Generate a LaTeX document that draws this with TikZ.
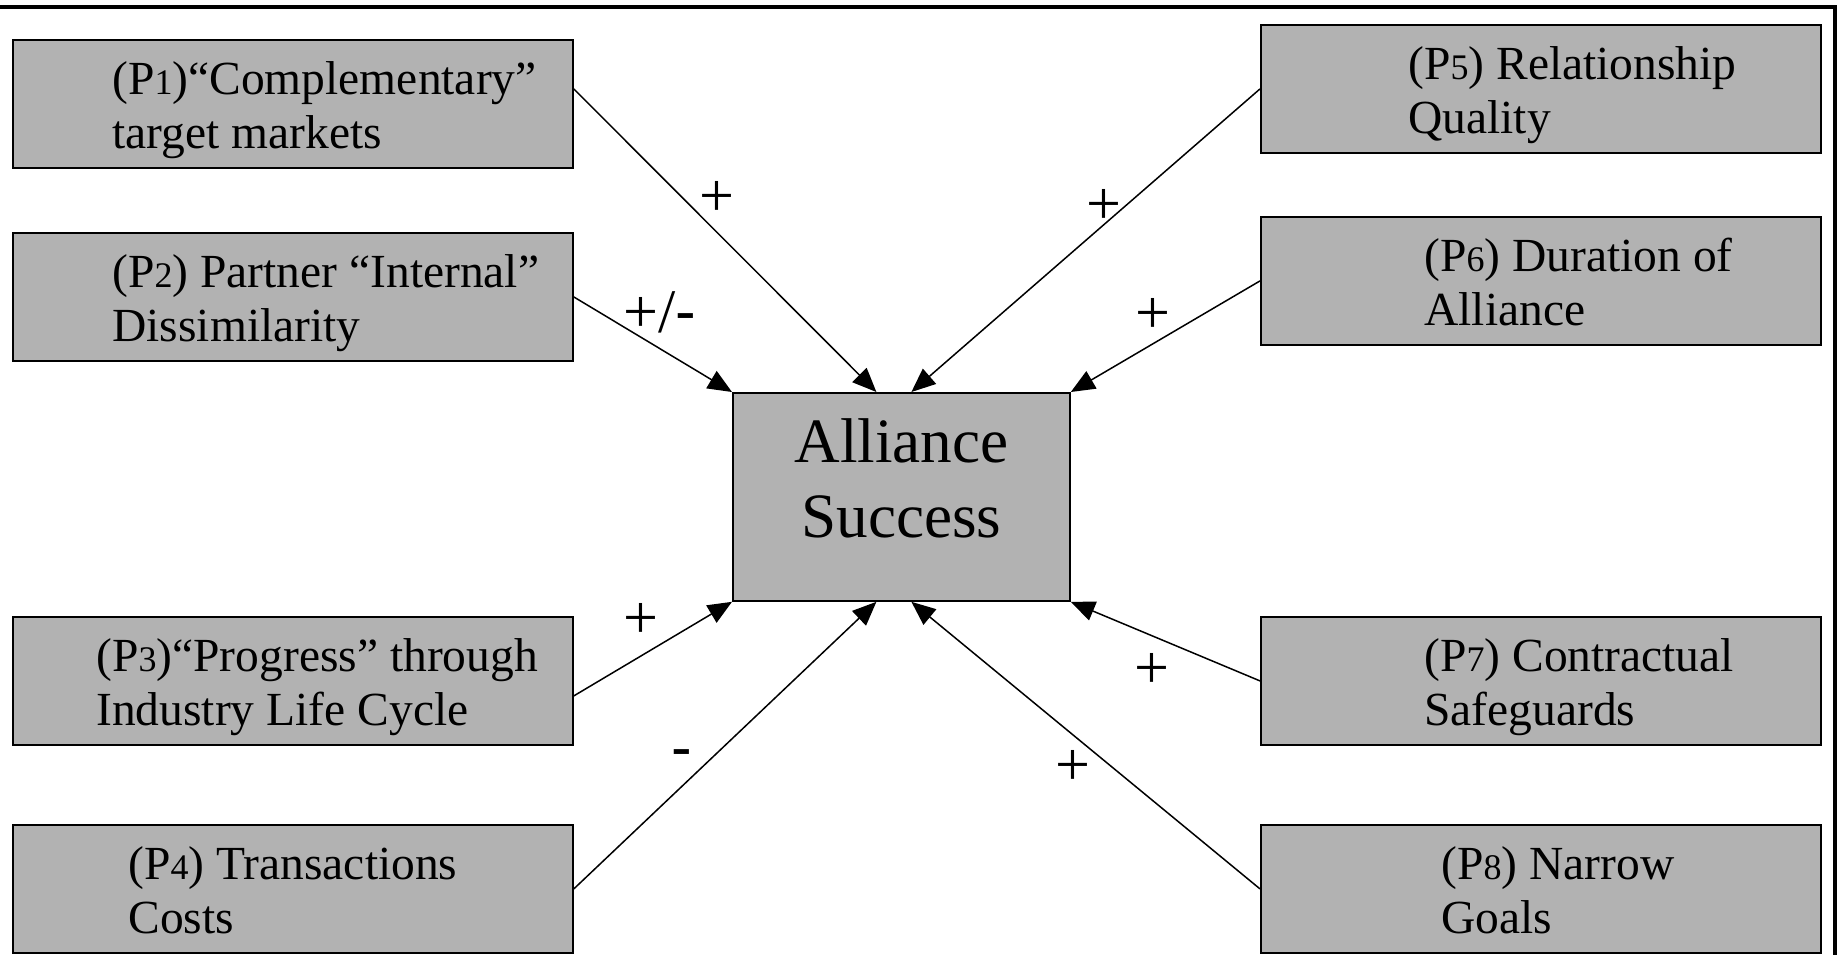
\documentclass[tikz,border=0pt]{standalone}
\usepackage{fontspec}
\setmainfont{Liberation Serif}
\newfontfamily\sansf{Liberation Sans}
\usetikzlibrary{arrows.meta,calc}
\definecolor{boxgray}{RGB}{178,178,178}
\newcommand\dg[1]{{\fontsize{18}{18}\selectfont #1}}
\begin{document}
\begin{tikzpicture}[x=0.5pt,y=-0.5pt,
  pbox/.style={draw=black, line width=0.9pt, fill=boxgray, minimum width=280pt,
    minimum height=64pt, inner sep=0pt, anchor=north west},
  cbox/.style={draw=black, line width=0.9pt, fill=boxgray, minimum width=168.5pt,
    minimum height=104pt, inner sep=0pt, anchor=north west},
  ptext/.style={anchor=north west, inner sep=0pt, align=left,
    font=\fontsize{23.75}{27}\selectfont},
  ctext/.style={anchor=north, inner sep=0pt, align=center,
    font=\fontsize{31.6}{37.5}\selectfont},
  conn/.style={line width=0.75pt, -{Triangle[length=12pt,width=10pt]}},
  sign/.style={inner sep=0pt, font=\fontsize{31}{33}\selectfont},
  frame/.style={line width=2pt}]
\useasboundingbox (0,0) rectangle (1838,955);
% frame (top and right only)
\draw[frame] (0,7) -- (1835,7) -- (1835,955);
% boxes
\node[pbox] (p1) at (12,39) {};
\node[pbox] (p2) at (12,232) {};
\node[pbox] (p3) at (12,616) {};
\node[pbox] (p4) at (12,824) {};
\node[pbox] (p5) at (1260,24) {};
\node[pbox] (p6) at (1260,216) {};
\node[pbox] (p7) at (1260,616) {};
\node[pbox] (p8) at (1260,824) {};
\node[cbox] (as) at (732,392) {};
% texts
\node[ptext] (t1) at ($(p1.north west)+(100,22)$) {(P\dg{1})“Complementary”\\target markets};
\node[ptext] (t2) at ($(p2.north west)+(100,22)$) {(P\dg{2}) Partner “Internal”\\Dissimilarity};
\node[ptext] (t3) at ($(p3.north west)+(84,22)$) {(P\dg{3})“Progress” through\\Industry Life Cycle};
\node[ptext] (t4) at ($(p4.north west)+(116,22)$) {(P\dg{4}) Transactions\\Costs};
\node[ptext] (t5) at ($(p5.north west)+(148,22)$) {(P\dg{5}) Relationship\\Quality};
\node[ptext] (t6) at ($(p6.north west)+(164,22)$) {(P\dg{6}) Duration of\\Alliance};
\node[ptext] (t7) at ($(p7.north west)+(164,22)$) {(P\dg{7}) Contractual\\Safeguards};
\node[ptext] (t8) at ($(p8.north west)+(181,22)$) {(P\dg{8}) Narrow\\Goals};
\node[ctext] (tc) at ($(as.north)+(0,26)$) {Alliance\\Success};
% connectors
\draw[conn] ($(p1.east)+(0,-15)$) -- ($(as.north)+(-25,0)$);
\draw[conn] (p2.east) -- (as.north west);
\draw[conn] ($(p3.east)+(0,15)$) -- (as.south west);
\draw[conn] (p4.east) -- ($(as.south)+(-25,0)$);
\draw[conn] (p5.west) -- ($(as.north)+(10,0)$);
\draw[conn] (p6.west) -- (as.north east);
\draw[conn] (p7.west) -- (as.south east);
\draw[conn] (p8.west) -- ($(as.south)+(10,0)$);
% signs
\node[sign] (s1) at (717,199) {+};
\node[sign] (s2) at (660,312) {+/{\sansf -}};
\node[sign] (s3) at (641,621) {+};
\node[sign] (s4) at (682,759) {\sansf -};
\node[sign] (s5) at (1104,207) {+};
\node[sign] (s6) at (1153,316) {+};
\node[sign] (s7) at (1152,671) {+};
\node[sign] (s8) at (1073,768) {+};
\end{tikzpicture}
\end{document}
